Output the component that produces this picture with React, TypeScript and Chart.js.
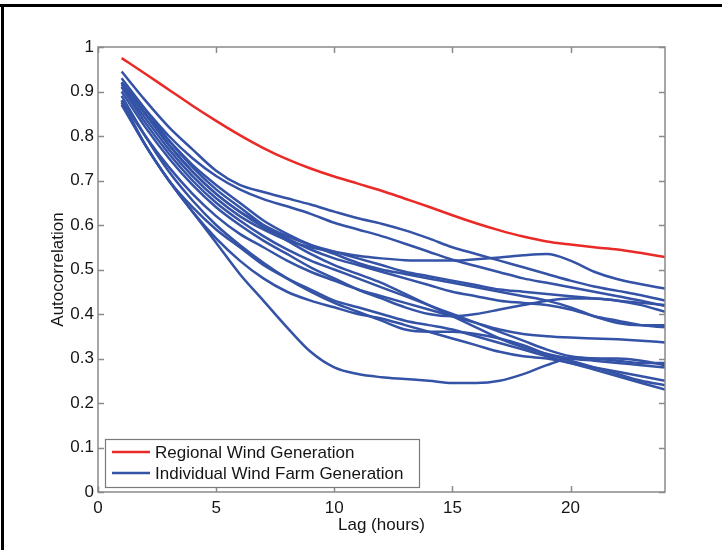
import React, { useEffect, useRef } from "react";
import { Chart, registerables } from "chart.js";

Chart.register(...registerables);

const lags = [1, 2, 3, 4, 5, 6, 7, 8, 9, 10, 11, 12, 13, 14, 15, 16, 17, 18, 19, 20, 21, 22, 23, 24];

const regional = [0.975, 0.94, 0.904, 0.868, 0.834, 0.802, 0.773, 0.748, 0.727, 0.709, 0.693, 0.677, 0.659, 0.641, 0.622, 0.604, 0.588, 0.574, 0.563, 0.556, 0.55, 0.545, 0.537, 0.528];

const farm01 = [0.945, 0.88, 0.82, 0.77, 0.722, 0.69, 0.674, 0.66, 0.646, 0.63, 0.615, 0.603, 0.588, 0.57, 0.55, 0.535, 0.52, 0.505, 0.49, 0.475, 0.462, 0.452, 0.442, 0.43];
const farm02 = [0.92, 0.86, 0.8, 0.75, 0.71, 0.68, 0.658, 0.642, 0.625, 0.605, 0.59, 0.575, 0.558, 0.54, 0.522, 0.508, 0.494, 0.48, 0.47, 0.46, 0.45, 0.44, 0.43, 0.418];
const farm03 = [0.91, 0.84, 0.77, 0.71, 0.66, 0.62, 0.59, 0.566, 0.55, 0.54, 0.531, 0.525, 0.521, 0.52, 0.52, 0.523, 0.527, 0.532, 0.535, 0.52, 0.495, 0.478, 0.467, 0.457];
const farm04 = [0.915, 0.85, 0.78, 0.72, 0.67, 0.63, 0.6, 0.575, 0.555, 0.54, 0.525, 0.51, 0.495, 0.485, 0.475, 0.465, 0.455, 0.45, 0.445, 0.44, 0.435, 0.43, 0.42, 0.405];
const farm05 = [0.92, 0.85, 0.79, 0.735, 0.69, 0.65, 0.61, 0.58, 0.555, 0.535, 0.515, 0.5, 0.49, 0.48, 0.47, 0.46, 0.45, 0.44, 0.43, 0.415, 0.395, 0.38, 0.375, 0.375];
const farm06 = [0.93, 0.86, 0.79, 0.73, 0.68, 0.64, 0.6, 0.57, 0.545, 0.525, 0.51, 0.495, 0.48, 0.465, 0.45, 0.44, 0.43, 0.425, 0.42, 0.41, 0.395, 0.385, 0.375, 0.37];
const farm07 = [0.9, 0.82, 0.75, 0.69, 0.64, 0.6, 0.565, 0.535, 0.505, 0.48, 0.455, 0.435, 0.415, 0.4, 0.395, 0.4, 0.41, 0.42, 0.43, 0.435, 0.435, 0.43, 0.425, 0.42];
const farm08 = [0.88, 0.8, 0.73, 0.67, 0.62, 0.58, 0.55, 0.52, 0.495, 0.475, 0.455, 0.44, 0.425, 0.41, 0.395, 0.38, 0.365, 0.355, 0.35, 0.347, 0.345, 0.343, 0.34, 0.336];
const farm09 = [0.91, 0.83, 0.76, 0.7, 0.65, 0.61, 0.575, 0.545, 0.52, 0.5, 0.48, 0.46, 0.44, 0.42, 0.4, 0.38, 0.36, 0.34, 0.32, 0.305, 0.3, 0.295, 0.29, 0.29];
const farm10 = [0.92, 0.85, 0.78, 0.72, 0.67, 0.63, 0.595, 0.565, 0.535, 0.51, 0.49, 0.47, 0.445, 0.42, 0.395, 0.37, 0.345, 0.325, 0.31, 0.3, 0.295, 0.29, 0.285, 0.28];
const farm11 = [0.87, 0.78, 0.7, 0.64, 0.59, 0.55, 0.51, 0.48, 0.455, 0.43, 0.415, 0.4, 0.385, 0.375, 0.365, 0.35, 0.335, 0.32, 0.305, 0.29, 0.28, 0.27, 0.26, 0.25];
const farm12 = [0.89, 0.8, 0.72, 0.655, 0.6, 0.555, 0.515, 0.48, 0.45, 0.425, 0.405, 0.385, 0.365, 0.36, 0.36, 0.355, 0.345, 0.33, 0.31, 0.295, 0.28, 0.265, 0.25, 0.24];
const farm13 = [0.88, 0.78, 0.7, 0.63, 0.57, 0.52, 0.48, 0.45, 0.43, 0.415, 0.4, 0.39, 0.375, 0.36, 0.345, 0.33, 0.315, 0.305, 0.3, 0.29, 0.275, 0.26, 0.245, 0.23];
const farm14 = [0.875, 0.78, 0.7, 0.63, 0.56, 0.49, 0.43, 0.37, 0.315, 0.28, 0.265, 0.258, 0.254, 0.25, 0.245, 0.245, 0.25, 0.265, 0.285, 0.3, 0.3, 0.3, 0.295, 0.285];

const farms = [farm01, farm02, farm03, farm04, farm05, farm06, farm07, farm08, farm09, farm10, farm11, farm12, farm13, farm14];

const xTicks = [0, 5, 10, 15, 20];
const yTicks = [0, 0.1, 0.2, 0.3, 0.4, 0.5, 0.6, 0.7, 0.8, 0.9, 1];
const yTickLabels = ["0", "0.1", "0.2", "0.3", "0.4", "0.5", "0.6", "0.7", "0.8", "0.9", "1"];

const RED = "#ea2a26";
const BLUE = "#3452a6";
const TEXT = "#151515";
const FONT = "Liberation Sans, Arial, sans-serif";

const toPoints = (vals: number[]) => lags.map((x, i) => ({ x, y: vals[i] }));

const framePlugin = {
  id: "matlabFrame",
  beforeDraw(chart: any) {
    const { ctx } = chart;
    ctx.save();
    ctx.fillStyle = "#ffffff";
    ctx.fillRect(0, 0, chart.width, chart.height);
    ctx.fillStyle = "#000000";
    ctx.fillRect(0, 4, chart.width, 3);
    ctx.fillRect(1, 4, 3, chart.height - 4);
    ctx.restore();
  },
  afterDatasetsDraw(chart: any) {
    const { ctx, chartArea: a, scales } = chart;
    const xs = scales.x;
    const ys = scales.y;
    ctx.save();
    ctx.strokeStyle = "#8a8a8a";
    ctx.lineWidth = 1.5;
    const tl = 6;
    ctx.beginPath();
    xTicks.forEach((v) => {
      const px = Math.round(xs.getPixelForValue(v)) + 0.5;
      ctx.moveTo(px, a.bottom);
      ctx.lineTo(px, a.bottom - tl);
      ctx.moveTo(px, a.top);
      ctx.lineTo(px, a.top + tl);
    });
    yTicks.forEach((v) => {
      const py = Math.round(ys.getPixelForValue(v)) + 0.5;
      ctx.moveTo(a.left, py);
      ctx.lineTo(a.left + tl, py);
      ctx.moveTo(a.right, py);
      ctx.lineTo(a.right - tl, py);
    });
    ctx.stroke();
    ctx.strokeRect(a.left, a.top, a.right - a.left, a.bottom - a.top);

    // legend box
    const entries = chart.data.datasets.filter((d: any) => d.label);
    const bx = a.left + 7;
    const bw = 314;
    const rowH = 21;
    const bh = 48;
    const by = a.bottom - 5 - bh;
    ctx.fillStyle = "#ffffff";
    ctx.fillRect(bx, by, bw, bh);
    ctx.lineWidth = 1.2;
    ctx.strokeStyle = "#7a7a7a";
    ctx.strokeRect(bx + 0.5, by + 0.5, bw, bh);
    ctx.font = `17px ${FONT}`;
    ctx.textBaseline = "middle";
    ctx.textAlign = "left";
    entries.forEach((d: any, i: number) => {
      const cy = by + 13 + i * rowH;
      ctx.strokeStyle = d.borderColor;
      ctx.lineWidth = 2.5;
      ctx.beginPath();
      ctx.moveTo(bx + 7, cy);
      ctx.lineTo(bx + 45, cy);
      ctx.stroke();
      ctx.fillStyle = TEXT;
      ctx.fillText(d.label, bx + 50, cy + 1);
    });
    ctx.restore();
  },
};

export default function App() {
  const ref = useRef<HTMLCanvasElement | null>(null);
  useEffect(() => {
    document.body.style.margin = "0";
    if (!ref.current) return;
    const datasets: any[] = [
      {
        label: "Regional Wind Generation",
        data: toPoints(regional),
        borderColor: RED,
        borderWidth: 2.5,
        pointRadius: 0,
        cubicInterpolationMode: "monotone",
        fill: false,
        order: 0,
      },
      ...farms.map((f, i) => ({
        label: i === 0 ? "Individual Wind Farm Generation" : "",
        data: toPoints(f),
        borderColor: BLUE,
        borderWidth: 2.5,
        pointRadius: 0,
        cubicInterpolationMode: "monotone",
        fill: false,
        order: 1,
      })),
    ];
    const chart = new Chart(ref.current, {
      type: "line",
      data: { datasets },
      plugins: [framePlugin],
      options: {
        responsive: false,
        animation: false,
        devicePixelRatio: 1,
        layout: { padding: { left: 0, top: 47, right: 57, bottom: 0 } },
        plugins: { legend: { display: false }, tooltip: { enabled: false } },
        scales: {
          x: {
            type: "linear",
            min: 0,
            max: 24,
            afterFit: (s: any) => {
              s.height = 58;
            },
            afterBuildTicks: (s: any) => {
              s.ticks = xTicks.map((v) => ({ value: v }));
            },
            ticks: {
              font: { family: FONT, size: 17 },
              color: TEXT,
              padding: 6,
              maxRotation: 0,
              callback: (v: any) => String(v),
            },
            grid: { display: false, drawTicks: false },
            border: { display: false },
            title: {
              display: true,
              text: "Lag (hours)",
              font: { family: FONT, size: 17 },
              color: TEXT,
              padding: { top: 0, bottom: 14 },
            },
          },
          y: {
            type: "linear",
            min: 0,
            max: 1,
            afterFit: (s: any) => {
              s.width = 98;
            },
            afterBuildTicks: (s: any) => {
              s.ticks = yTicks.map((v) => ({ value: v }));
            },
            ticks: {
              font: { family: FONT, size: 17 },
              color: TEXT,
              padding: 4,
              callback: (v: any) => {
                const i = yTicks.findIndex((t) => Math.abs(t - Number(v)) < 1e-6);
                return i >= 0 ? yTickLabels[i] : "";
              },
            },
            grid: { display: false, drawTicks: false },
            border: { display: false },
            title: {
              display: true,
              text: "Autocorrelation",
              font: { family: FONT, size: 17 },
              color: TEXT,
              padding: { top: 48, bottom: 0 },
            },
          },
        },
      },
    });
    return () => chart.destroy();
  }, []);
  return (
    <div style={{ width: 722, height: 550 }}>
      <canvas ref={ref} width={722} height={550} style={{ display: "block" }} />
    </div>
  );
}
